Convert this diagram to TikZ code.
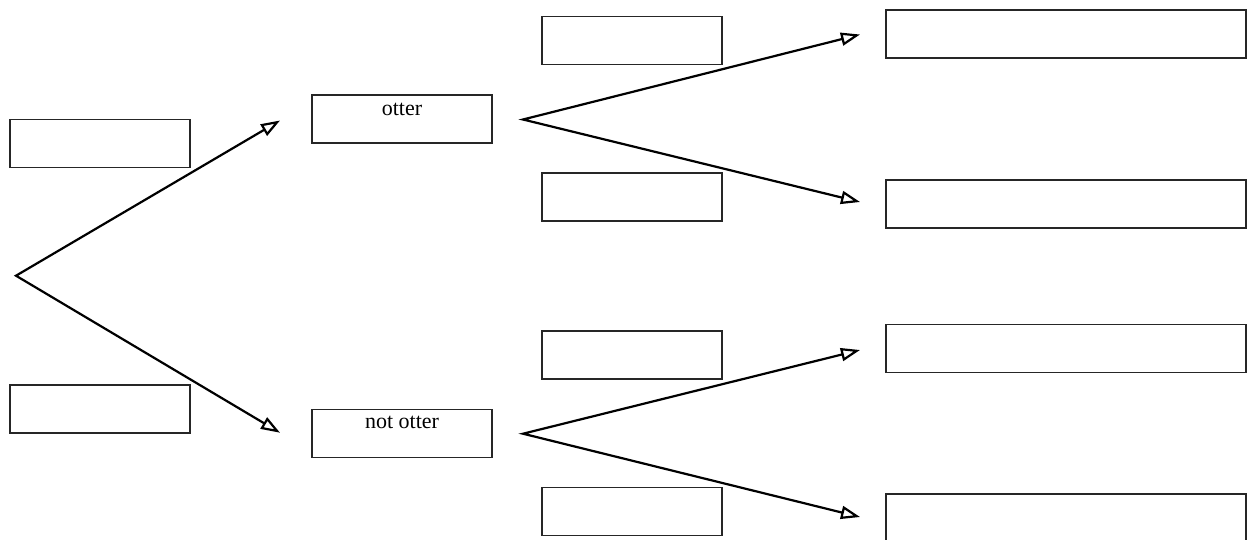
\documentclass[tikz,border=0pt]{standalone}
\usepackage{fontspec}
\setmainfont{Liberation Serif}
\usetikzlibrary{arrows.meta}
\tikzset{
  box/.style={draw=black!85, line width=1.2pt, rectangle, inner sep=0pt,
    minimum width=180pt, minimum height=48pt, fill=white},
  widebox/.style={box, minimum width=360pt},
  lbl/.style={anchor=base, inner sep=0pt, font=\fontsize{22pt}{26pt}\selectfont},
  tipstyle/.style={},
  conn/.style={line width=2.2pt, line join=miter,
    {Triangle[open, length=19pt, width=13pt, fill=white]}-{Triangle[open, length=19pt, width=13pt, fill=white]}}
}
\begin{document}
\begin{tikzpicture}[x=1pt, y=-1pt]
\clip (0,0) rectangle (1247,539);
\fill[white] (0,0) rectangle (1247,539);
% left boxes
\node[box] (L1) at (100,143.3) {};
\node[box] (L2) at (100,409) {};
% middle boxes
\node[box] (M1) at (402,119) {};
\node[box] (M2) at (402,433.3) {};
\node[lbl] (M1t) at (402,115.7) {otter};
\node[lbl] (M2t) at (402,428.7) {not otter};
% small boxes
\node[box] (S1) at (632,40.3) {};
\node[box] (S2) at (632,197) {};
\node[box] (S3) at (632,355) {};
\node[box] (S4) at (632,511.7) {};
% right boxes
\node[widebox] (R1) at (1066,34) {};
\node[widebox] (R2) at (1066,204) {};
\node[widebox] (R3) at (1066,348.5) {};
\node[widebox] (R4) at (1066,518) {};
% connector points
\coordinate (s0) at (16,275.7);
\coordinate (a1) at (280,120.5);
\coordinate (a2) at (280,432.7);
\coordinate (b1) at (523,119.5);
\coordinate (c1) at (860,34.5);
\coordinate (c2) at (860,202);
\coordinate (b2) at (523,433.7);
\coordinate (c3) at (860,350);
\coordinate (c4) at (860,517);
\draw[conn] (a1) -- (s0) -- (a2);
\draw[conn] (c1) -- (b1) -- (c2);
\draw[conn] (c3) -- (b2) -- (c4);
\end{tikzpicture}
\end{document}
